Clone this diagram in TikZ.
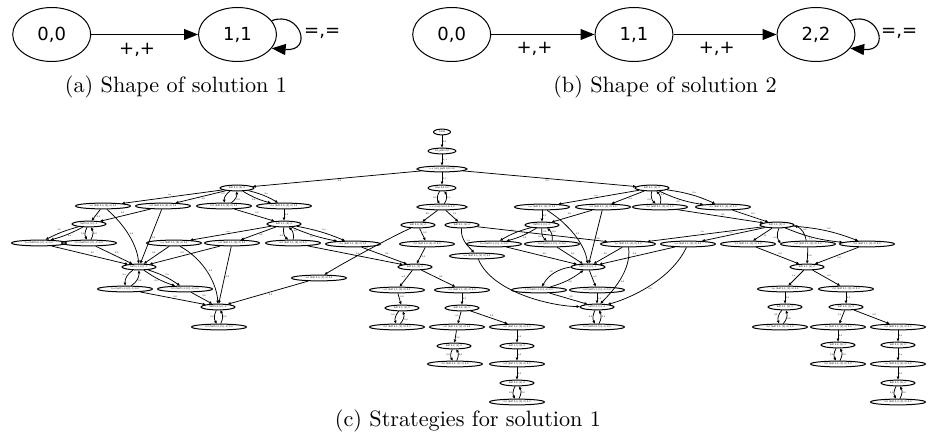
\documentclass[tikz,border=0pt]{standalone}
\usepackage{fontspec}
\newfontfamily\djv{DejaVu Sans}
\newfontfamily\capfont{lmroman10-regular}[Extension=.otf]
\usetikzlibrary{shapes.geometric,arrows.meta}
\begin{document}
\begin{tikzpicture}[x=1pt,y=-1pt,
 bignode/.style={ellipse,draw,line width=1pt,minimum width=78pt,minimum height=54pt,inner sep=0pt,font=\djv\fontsize{18}{21}\selectfont},
 bigedge/.style={line width=1.1pt,-{Triangle[length=14pt,width=11pt]}},
 blbl/.style={font=\djv\fontsize{18}{21}\selectfont,inner sep=0pt},
 captxt/.style={font=\capfont\fontsize{22.2}{26}\selectfont,inner sep=0pt},
 wnode/.style={ellipse,draw,line width=1pt,minimum width=55pt,minimum height=5.8pt,inner sep=0pt,font=\djv\fontsize{2.3}{2.5}\selectfont},
 snode/.style={wnode,minimum width=34pt},
 ed/.style={line width=0.75pt,-{Triangle[length=3pt,width=2.6pt]}},
 elb/.style={font=\djv\fontsize{2}{2.2}\selectfont,inner sep=0.6pt,auto}]
\path[use as bounding box] (0,0) rectangle (930,441);

% ---------- (a)
\node[bignode] (a0) at (51.7,34.5) {0,0};
\node[bignode] (a1) at (237.5,34.5) {1,1};
\draw[bigedge] (a0) -- node[blbl,pos=0.43,yshift=-15pt]{+,+} (a1);
\draw[bigedge] (a1.22) .. controls (300,10) and (314,52) .. (a1.-22);
\node[blbl,anchor=west] (aeq) at (304,33.5) {=,=};
\node[captxt] (capa) at (176,87) {(a) Shape of solution 1};

% ---------- (b)
\node[bignode] (b0) at (451.7,34.5) {0,0};
\node[bignode] (b1) at (634,34.5) {1,1};
\node[bignode] (b2) at (816,34.5) {2,2};
\draw[bigedge] (b0) -- node[blbl,pos=0.42,yshift=-14pt]{+,+} (b1);
\draw[bigedge] (b1) -- node[blbl,pos=0.42,yshift=-14pt]{+,+} (b2);
\draw[bigedge] (b2.22) .. controls (878,10) and (892,52) .. (b2.-22);
\node[blbl,anchor=west] (beq) at (881,33.5) {=,=};
\node[captxt] (capb) at (665,87) {(b) Shape of solution 2};

% ---------- (c) nodes
\node[wnode,minimum width=17pt] (i0) at (442,132) {initial};
\node[wnode,minimum width=28pt] (i1) at (442,151) {init\_path 0,0};
\node[wnode,minimum width=50pt] (i2) at (442,169) {+,+ (init\_path 0,0) 0,0};
\node[wnode,minimum width=28pt] (lp) at (442,188) {loop 0,0 0,0};
\node[wnode,minimum width=50pt] (lq) at (442,207) {+,+ (loop 0,0 0,0) 0,0};

% left
\node[snode] (L0) at (237,188) {Self 0,0, [2], 0};
\node[wnode] (La) at (103,206) {u,u (Self 0,0, [2], 0) 0,0};
\node[wnode] (Lb) at (163,206) {u,0 (Self 0,0, [2], 0) 0,0};
\node[wnode] (Lc) at (224,206) {0,0 (Self 0,0, [2], 0) 0,0};
\node[wnode] (Ld) at (284,206) {0,u (Self 0,0, [2], 0) 1,0};
\node[snode] (L1) at (89,224) {Self 0,0, [2], -1};
\node[snode] (L2) at (284,224) {Self 1,1, [2], 0};
\node[wnode] (Le) at (39,243) {0,u (Self 0,0, [2], -1) 0,0};
\node[wnode] (Lf) at (89,243) {0,0 (Self 0,0, [2], -1) 0,0};
\node[wnode] (Lg) at (174,243) {u,u (Self 1,1, [2], 0) 0,0};
\node[wnode] (Lh) at (232,243) {u,0 (Self 1,1, [2], 0) 0,0};
\node[wnode] (Li) at (293,243) {0,0 (Self 1,1, [2], 0) 0,0};
\node[wnode] (Lj) at (353,244) {0,u (Self 1,1, [2], 0) 1,0};
\node[snode] (L3) at (139,267) {Self 1,1, [2], -1};
\node[wnode] (Lk) at (125,289) {0,u (Self 1,1, [2], -1) 0,0};
\node[wnode] (Ll) at (185,289) {0,0 (Self 1,1, [2], -1) 0,0};
\node[wnode] (Lm) at (319,278) {u,0 (Self 0,0, [1], 0) 0,0};
\node[snode] (L4) at (218,307) {Self 2,2, [2], -2};
\node[wnode] (Ln) at (219,327) {0,0 (Self 2,2, [2], -2) 0,0};

% middle
\node[snode] (M1) at (418,225) {Self 0,0, [1], 0};
\node[snode] (M2) at (462,225) {Self 0,1, [1], 0};
\node[wnode] (Ma) at (427,244) {0,0 (Self 0,0, [1], 0) 0,0};
\node[wnode] (Mb) at (477,256) {u,u (Self 0,1, [1], 0) 0,0};
\node[snode] (M3) at (415,267) {Self 1,1, [1], 0};
\node[wnode] (Mc) at (397,290) {u,0 (Self 1,1, [1], 0) 0,0};
\node[wnode] (Md) at (462,290) {0,0 (Self 1,1, [1], 0) 0,0};
\node[snode] (M4) at (402,308) {Self 2,1, [1], 0};
\node[snode] (M5) at (462,308) {Self 1,2, [1], 0};
\node[wnode] (Me) at (397,327) {0,0 (Self 2,1, [1], 0) 0,0};
\node[wnode] (Mf) at (457,327) {u,0 (Self 1,2, [1], 0) 0,0};
\node[wnode] (Mg) at (517,327) {0,0 (Self 1,2, [1], 0) 0,0};
\node[snode] (M6) at (454,346) {Self 2,2, [1], 0};
\node[snode] (M7) at (517,346) {Self 1,3, [1], 0};
\node[wnode] (Mh) at (455,364) {0,0 (Self 2,2, [1], 0) 0,0};
\node[wnode] (Mi) at (517,364) {u,0 (Self 1,3, [1], 0) 0,0};
\node[snode] (M8) at (517,383) {Self 2,3, [1], 0};
\node[wnode] (Mj) at (517,402) {0,0 (Self 2,3, [1], 0) 0,0};

% right
\node[snode] (R0) at (652,188) {Self 0,1, [1], 0};
\node[wnode] (Ra) at (542,207) {u,u (Self 0,1, [1], 0) 0,0};
\node[wnode] (Rb) at (603,207) {u,0 (Self 0,1, [1], 0) 0,0};
\node[wnode] (Rc) at (660,207) {0,0 (Self 0,1, [1], 0) 0,0};
\node[wnode] (Rd) at (723,207) {0,u (Self 0,1, [1], 0) 1,0};
\node[snode] (R1) at (542,225) {Self 0,1, [1], -1};
\node[snode] (R2) at (777,225) {Self 1,1, [1], 0};
\node[wnode] (Re) at (494,244) {0,u (Self 0,1, [1], -1) 0,0};
\node[wnode] (Rf) at (552,244) {0,0 (Self 0,1, [1], -1) 0,0};
\node[wnode] (Rg) at (628,244) {1,u (Self 1,1, [1], 0) 0,0};
\node[wnode] (Rh) at (688,244) {u,u (Self 1,1, [1], 0) 0,0};
\node[wnode] (Ri) at (748,244) {1,1 (Self 1,1, [1], 0) 0,0};
\node[wnode] (Rj) at (808,244) {u,0 (Self 1,1, [1], 0) 0,0};
\node[wnode] (Rk) at (867,244) {0,0 (Self 1,1, [1], 0) 0,0};
\node[snode] (R3) at (588,267) {Self 1,1, [1], -1};
\node[snode] (R4) at (807,267) {Self 2,1, [1], 0};
\node[wnode] (Rl) at (539,290) {1,0 (Self 1,1, [1], -1) 0,0};
\node[wnode] (Rm) at (597,290) {u,0 (Self 1,1, [1], -1) 0,0};
\node[wnode] (Rn) at (785,289) {1,u (Self 2,1, [1], 0) 0,0};
\node[wnode] (Ro) at (846,289) {0,0 (Self 2,1, [1], 0) 0,0};
\node[snode] (R5) at (597,307) {Self 2,2, [1], -1};
\node[snode] (R6) at (785,307) {Self 3,1, [1], 0};
\node[snode] (R7) at (846,307) {Self 2,2, [1], 0};
\node[wnode] (Rp) at (597,327) {0,0 (Self 2,2, [1], -1) 0,0};
\node[wnode] (Rq) at (780,327) {0,0 (Self 3,1, [1], 0) 0,0};
\node[wnode] (Rr) at (838,327) {1,u (Self 2,2, [1], 0) 0,0};
\node[wnode] (Rs) at (898,327) {0,0 (Self 2,2, [1], 0) 0,0};
\node[snode] (R8) at (838,345) {Self 3,2, [1], 0};
\node[snode] (R9) at (898,345) {Self 2,3, [1], 0};
\node[wnode] (Rt) at (838,364) {0,0 (Self 3,2, [1], 0) 0,0};
\node[wnode] (Ru) at (898,364) {1,u (Self 2,3, [1], 0) 0,0};
\node[snode] (R10) at (898,383) {Self 3,3, [1], 0};
\node[wnode] (Rv) at (898,402) {0,0 (Self 3,3, [1], 0) 0,0};

% ---------- (c) edges
\draw[ed] (i0) -- node[elb]{0,0} (i1);
\draw[ed] (i1) -- node[elb]{+,+} (i2);
\draw[ed] (i2) -- node[elb]{0,0} (L0);
\draw[ed] (i2) -- node[elb]{1,1} (lp);
\draw[ed] (i2) -- node[elb,swap]{0,0} (R0);
\draw[ed] (lp) to[bend right=35] node[elb,swap]{0,0} (lq);
\draw[ed] (lq) to[bend right=35] node[elb,swap]{1,1} (lp);
\draw[ed] (lq) -- node[elb,swap]{0,0} (M1);
\draw[ed] (lq) -- node[elb]{1,0} (M2);

% left block
\draw[ed] (L0) -- node[elb,swap]{u,u} (La);
\draw[ed] (L0) -- node[elb]{u,0} (Lb);
\draw[ed] (L0) to[bend right=30] node[elb,swap]{0,0} (Lc);
\draw[ed] (Lc) to[bend right=30] node[elb,swap]{0,0} (L0);
\draw[ed] (L0) to[bend left=8] node[elb]{0,u} (Ld);
\draw[ed] (L0) to[bend right=8] node[elb,swap]{0,0} (Ld);
\draw[ed] (La) -- node[elb]{0,0} (L1);
\draw[ed] (Lb) -- node[elb,swap]{0,0} (L1);
\draw[ed] (La) .. controls (125,225) and (137,245) .. node[elb]{0,0} (L3);
\draw[ed] (Lb) -- node[elb]{0,0} (L3);
\draw[ed] (Lc) -- node[elb]{0,0} (L2);
\draw[ed] (Ld) -- node[elb]{0,0} (L2);
\draw[ed] (L1) to[bend left=6] node[elb]{0,u} (Le);
\draw[ed] (L1) to[bend right=6] node[elb,swap]{0,0} (Le);
\draw[ed] (L1) to[bend right=30] node[elb,swap]{0,0} (Lf);
\draw[ed] (Lf) to[bend right=30] node[elb,swap]{0,0} (L1);
\draw[ed] (L2) -- node[elb,swap]{u,u} (Lg);
\draw[ed] (L2) -- node[elb]{u,0} (Lh);
\draw[ed] (L2) to[bend right=30] node[elb,swap]{0,0} (Li);
\draw[ed] (Li) to[bend right=30] node[elb,swap]{0,0} (L2);
\draw[ed] (L2) to[bend left=6] node[elb]{0,u} (Lj);
\draw[ed] (L2) to[bend right=6] node[elb,swap]{1,0} (Lj);
\draw[ed] (Le) -- node[elb]{0,0} (L3);
\draw[ed] (Lf) -- node[elb]{0,0} (L3);
\draw[ed] (Lg) -- node[elb,swap]{0,0} (L3);
\draw[ed] (Lh) -- node[elb,swap]{0,0} (L3);
\draw[ed] (Lg) .. controls (205,260) and (217,285) .. node[elb]{0,0} (L4);
\draw[ed] (Lh) -- node[elb]{0,0} (L4);
\draw[ed] (L3) to[bend right=30] node[elb,swap]{0,u} (Lk);
\draw[ed] (Lk) to[bend right=30] node[elb,swap]{0,0} (L3);
\draw[ed] (L3) to[bend left=8] node[elb]{0,u} (Ll);
\draw[ed] (L3) to[bend right=8] node[elb,swap]{0,0} (Ll);
\draw[ed] (Lk) -- node[elb]{0,0} (L4);
\draw[ed] (Ll) -- node[elb]{0,0} (L4);
\draw[ed] (Lm) -- node[elb]{0,0} (L4);
\draw[ed] (L4) to[bend right=30] node[elb,swap]{0,0} (Ln);
\draw[ed] (Ln) to[bend right=30] node[elb,swap]{0,0} (L4);

% middle block
\draw[ed] (M1) -- node[elb]{0,0} (Ma);
\draw[ed] (M1) .. controls (395,235) and (345,262) .. node[elb,swap]{u,0} (Lm);
\draw[ed] (M2) .. controls (460,240) and (470,248) .. node[elb]{1,u} (Mb);
\draw[ed] (M2) -- node[elb]{0,0} (Rg);
\draw[ed] (Li) -- node[elb]{0,0} (M3);
\draw[ed] (Lj) -- node[elb]{0,0} (M3);
\draw[ed] (Ma) -- node[elb]{0,0} (M3);
\draw[ed] (M3) -- node[elb,swap]{u,0} (Mc);
\draw[ed] (M3) -- node[elb]{0,0} (Md);
\draw[ed] (Mc) -- node[elb]{0,0} (M4);
\draw[ed] (M4) to[bend right=30] node[elb,swap]{0,0} (Me);
\draw[ed] (Me) to[bend right=30] node[elb,swap]{0,0} (M4);
\draw[ed] (Md) -- node[elb]{0,0} (M5);
\draw[ed] (M5) -- node[elb,swap]{u,0} (Mf);
\draw[ed] (M5) -- node[elb]{0,0} (Mg);
\draw[ed] (Mf) -- node[elb]{0,0} (M6);
\draw[ed] (M6) to[bend right=30] node[elb,swap]{0,0} (Mh);
\draw[ed] (Mh) to[bend right=30] node[elb,swap]{0,0} (M6);
\draw[ed] (Mg) -- node[elb]{0,0} (M7);
\draw[ed] (M7) -- node[elb]{u,0} (Mi);
\draw[ed] (Mi) -- node[elb]{0,0} (M8);
\draw[ed] (M8) to[bend right=30] node[elb,swap]{0,0} (Mj);
\draw[ed] (Mj) to[bend right=30] node[elb,swap]{0,0} (M8);

% right block
\draw[ed] (R0) -- node[elb,swap]{u,u} (Ra);
\draw[ed] (R0) -- node[elb]{u,0} (Rb);
\draw[ed] (R0) to[bend right=30] node[elb,swap]{0,0} (Rc);
\draw[ed] (Rc) to[bend right=30] node[elb,swap]{0,0} (R0);
\draw[ed] (R0) to[bend left=8] node[elb]{0,u} (Rd);
\draw[ed] (R0) to[bend right=8] node[elb,swap]{0,0} (Rd);
\draw[ed] (Ra) -- node[elb]{0,0} (R1);
\draw[ed] (Rb) -- node[elb,swap]{0,0} (R1);
\draw[ed] (Ra) .. controls (570,225) and (585,245) .. node[elb]{0,0} (R3);
\draw[ed] (Rb) -- node[elb]{0,0} (R3);
\draw[ed] (Rc) -- node[elb]{0,0} (R2);
\draw[ed] (Rd) -- node[elb]{0,0} (R2);
\draw[ed] (R1) to[bend left=8] node[elb]{1,0} (Re);
\draw[ed] (R1) to[bend right=8] node[elb,swap]{0,0} (Re);
\draw[ed] (R1) to[bend right=30] node[elb,swap]{0,0} (Rf);
\draw[ed] (Rf) to[bend right=30] node[elb,swap]{0,0} (R1);
\draw[ed] (R2) -- node[elb,swap]{1,u} (Rg);
\draw[ed] (R2) -- node[elb,swap]{u,u} (Rh);
\draw[ed] (R2) -- node[elb]{1,1} (Ri);
\draw[ed] (R2) to[bend right=30] node[elb,swap]{u,0} (Rj);
\draw[ed] (Rj) to[bend right=30] node[elb,swap]{0,0} (R2);
\draw[ed] (R2) to[bend left=8] node[elb]{0,0} (Rk);
\draw[ed] (R2) to[bend right=8] node[elb,swap]{1,1} (Rk);
\draw[ed] (Re) -- node[elb]{0,0} (R3);
\draw[ed] (Rf) -- node[elb]{0,0} (R3);
\draw[ed] (Rg) -- node[elb,swap]{0,0} (R3);
\draw[ed] (Rh) -- node[elb,swap]{0,0} (R3);
\draw[ed] (Rg) .. controls (632,270) and (612,292) .. node[elb]{0,0} (R5);
\draw[ed] (Rh) .. controls (670,282) and (625,300) .. node[elb]{0,0} (R5);
\draw[ed] (Mb) .. controls (492,292) and (550,306) .. node[elb]{0,0} (R5);
\draw[ed] (R3) to[bend right=25] node[elb,swap]{1,0} (Rl);
\draw[ed] (Rl) to[bend right=10] node[elb,swap]{0,0} (R3);
\draw[ed] (R3) -- node[elb]{u,0} (Rm);
\draw[ed] (Rl) -- node[elb]{0,0} (R5);
\draw[ed] (Rm) -- node[elb]{0,0} (R5);
\draw[ed] (R5) to[bend right=30] node[elb,swap]{0,0} (Rp);
\draw[ed] (Rp) to[bend right=30] node[elb,swap]{0,0} (R5);
\draw[ed] (Ri) -- node[elb]{0,0} (R4);
\draw[ed] (Rj) -- node[elb]{0,0} (R4);
\draw[ed] (Rk) -- node[elb]{0,0} (R4);
\draw[ed] (R4) -- node[elb,swap]{1,u} (Rn);
\draw[ed] (R4) -- node[elb]{0,0} (Ro);
\draw[ed] (Rn) -- node[elb]{0,0} (R6);
\draw[ed] (R6) to[bend right=30] node[elb,swap]{0,0} (Rq);
\draw[ed] (Rq) to[bend right=30] node[elb,swap]{0,0} (R6);
\draw[ed] (Ro) -- node[elb]{0,0} (R7);
\draw[ed] (R7) -- node[elb,swap]{1,u} (Rr);
\draw[ed] (R7) -- node[elb]{0,0} (Rs);
\draw[ed] (Rr) -- node[elb]{0,0} (R8);
\draw[ed] (R8) to[bend right=30] node[elb,swap]{0,0} (Rt);
\draw[ed] (Rt) to[bend right=30] node[elb,swap]{0,0} (R8);
\draw[ed] (Rs) -- node[elb]{0,0} (R9);
\draw[ed] (R9) -- node[elb]{1,u} (Ru);
\draw[ed] (Ru) -- node[elb]{0,0} (R10);
\draw[ed] (R10) to[bend right=30] node[elb,swap]{0,0} (Rv);
\draw[ed] (Rv) to[bend right=30] node[elb,swap]{0,0} (R10);

\node[captxt] (capc) at (468,421) {(c) Strategies for solution 1};
\end{tikzpicture}
\end{document}
